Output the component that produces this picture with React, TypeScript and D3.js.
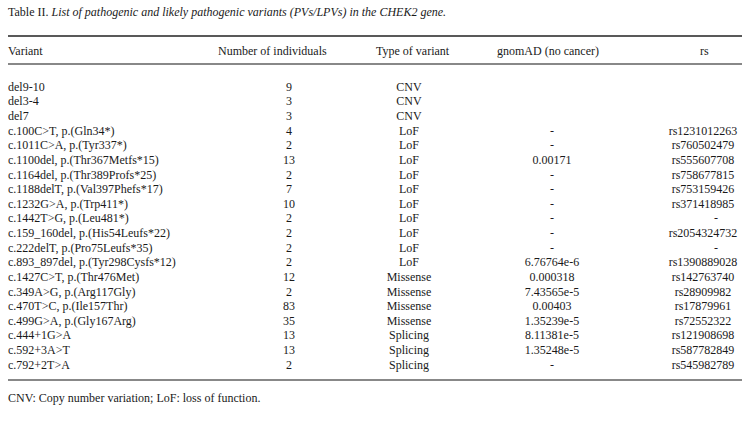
import React from "react";
import * as d3 from "d3";

const variants = [
  "del9-10", "del3-4", "del7",
  "c.100C>T, p.(Gln34*)", "c.1011C>A, p.(Tyr337*)", "c.1100del, p.(Thr367Metfs*15)",
  "c.1164del, p.(Thr389Profs*25)", "c.1188delT, p.(Val397Phefs*17)", "c.1232G>A, p.(Trp411*)",
  "c.1442T>G, p.(Leu481*)", "c.159_160del, p.(His54Leufs*22)", "c.222delT, p.(Pro75Leufs*35)",
  "c.893_897del, p.(Tyr298Cysfs*12)", "c.1427C>T, p.(Thr476Met)", "c.349A>G, p.(Arg117Gly)",
  "c.470T>C, p.(Ile157Thr)", "c.499G>A, p.(Gly167Arg)", "c.444+1G>A", "c.592+3A>T", "c.792+2T>A",
];
const counts = ["9", "3", "3", "4", "2", "13", "2", "7", "10", "2", "2", "2", "2", "12", "2", "83", "35", "13", "13", "2"];
const types = ["CNV", "CNV", "CNV", "LoF", "LoF", "LoF", "LoF", "LoF", "LoF", "LoF", "LoF", "LoF", "LoF",
  "Missense", "Missense", "Missense", "Missense", "Splicing", "Splicing", "Splicing"];
const gnomad = ["", "", "", "-", "-", "0.00171", "-", "-", "-", "-", "-", "-", "6.76764e-6",
  "0.000318", "7.43565e-5", "0.00403", "1.35239e-5", "8.11381e-5", "1.35248e-5", "-"];
const rsIds = ["", "", "", "rs1231012263", "rs760502479", "rs555607708", "rs758677815", "rs753159426",
  "rs371418985", "-", "rs2054324732", "-", "rs1390889028", "rs142763740", "rs28909982", "rs17879961",
  "rs72552322", "rs121908698", "rs587782849", "rs545982789"];
const headers = ["Variant", "Number of individuals", "Type of variant", "gnomAD (no cancer)", "rs"];
const titleLead = "Table II. ";
const titleItalic = "List of pathogenic and likely pathogenic variants (PVs/LPVs) in the CHEK2 gene.";
const footnote = "CNV: Copy number variation; LoF: loss of function.";

const W = 752, H = 425;
const FONT = "'Liberation Serif', 'Times New Roman', serif";

export default function App() {
  const rows = d3.range(variants.length);
  const y = d3.scalePoint<number>().domain(rows).range([88, 366]);
  const colKeys = ["variant", "count", "type", "gnomad", "rs"];
  const headerX = d3.scaleOrdinal<string, number>().domain(colKeys).range([8, 218, 376, 497, 700]);
  const cellX = d3.scaleOrdinal<string, number>().domain(colKeys).range([8, 289, 409, 552, 703]);
  const cols: [string, string[], "start" | "middle"][] = [
    ["variant", variants, "start"],
    ["count", counts, "middle"],
    ["type", types, "middle"],
    ["gnomad", gnomad, "middle"],
    ["rs", rsIds, "middle"],
  ];
  const fs = 12;
  const color = "#1a1a1a";
  return (
    <svg width={W} height={H} style={{ position: "absolute", left: 0, top: 0, background: "#fff" }}
      fontFamily={FONT} fontSize={fs} fill={color}>
      <rect width={W} height={H} fill="#fff" />
      <text x={8} y={13} dominantBaseline="middle" fontSize={12}>
        <tspan>{titleLead}</tspan>
        <tspan fontStyle="italic">{titleItalic}</tspan>
      </text>
      <line x1={8} x2={742} y1={36} y2={36} stroke="#222" strokeWidth={1.3} />
      {headers.map((h, i) => (
        <text key={h} x={headerX(colKeys[i])} y={52} dominantBaseline="middle">{h}</text>
      ))}
      <line x1={8} x2={742} y1={64} y2={64} stroke="#888" strokeWidth={2} />
      {cols.map(([key, vals, anchor]) =>
        vals.map((v, i) => (
          <text key={key + i} x={key === "rs" && v === "-" ? 716 : cellX(key)} y={y(i)!}
            textAnchor={anchor} dominantBaseline="middle">{v}</text>
        ))
      )}
      <line x1={8} x2={742} y1={380} y2={380} stroke="#888" strokeWidth={2} />
      <text x={8} y={399} dominantBaseline="middle">{footnote}</text>
    </svg>
  );
}
